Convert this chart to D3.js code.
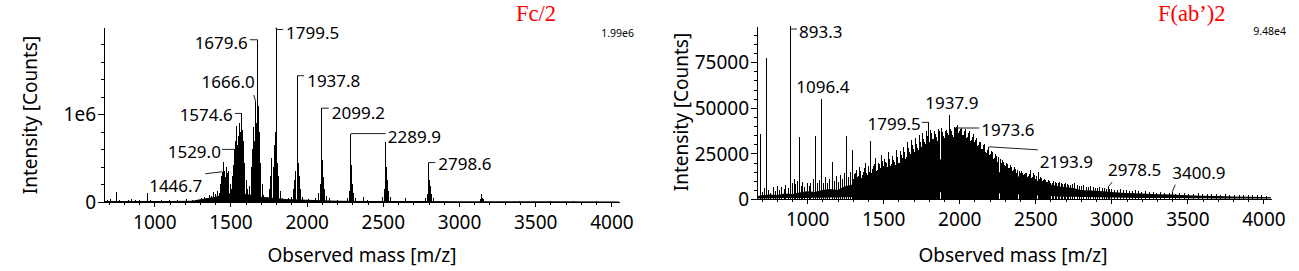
<!DOCTYPE html>
<html>
<head>
<meta charset="utf-8">
<script src="https://cdn.jsdelivr.net/npm/d3@7"></script>
<style>
  body { margin: 0; background: #fff; }
  svg { display: block; font-family: 'Noto Sans', 'Open Sans', sans-serif; }
  .axis path, .axis line { stroke: #000; shape-rendering: crispEdges; }
  .axis text { font-size: 19px; fill: #000; font-family: 'Noto Sans', sans-serif; }
  .axis-title { font-size: 19px; fill: #000; }
  .peak-label { font-size: 17px; fill: #000; }
  .leader { stroke: #222; fill: none; stroke-width: 1; }
  .stick { stroke: #000; stroke-width: 1; shape-rendering: crispEdges; }
  .bulk { fill: #000; }
  .scale-max { font-size: 10.5px; fill: #000; }
  .title { font-family: 'Liberation Serif', 'Times New Roman', serif; font-size: 22.5px; fill: #f00; }
</style>
</head>
<body>
<svg width="1299" height="271"></svg>
<script>
// ------------------------------------------------------------------ data --

const massTicks = [1000, 1500, 2000, 2500, 3000, 3500, 4000];
const massDomain = [670, 4050];

// Fc/2 panel
const fcMax = 1.99e6;
const fcYTicks = [0, 1e6];
const fcYLabels = ['0', '1e6'];
const fcPeaks = [
  [690, 20000], [712, 30000], [750, 115000], [770, 20000], [800, 15000], [830, 25000],
  [850, 30000], [880, 20000], [905, 25000], [930, 15000], [954, 100000], [975, 20000],
  [1010, 15000], [1050, 20000], [1100, 20000], [1150, 25000], [1180, 15000], [1210, 30000],
  [1250, 25000], [1280, 20000], [1310, 40000], [1330, 60000], [1345, 50000], [1360, 80000],
  [1375, 70000], [1390, 110000], [1405, 90000], [1415, 130000], [1425, 100000],
  [1432, 200000], [1440, 300000], [1446.7, 345000], [1452, 460000], [1460, 350000],
  [1468, 280000], [1475, 400000], [1483, 330000], [1490, 350000], [1498, 200000], [1505, 150000],
  [1515, 300000], [1522, 420000], [1529.0, 600000], [1535, 700000], [1540, 870000],
  [1547, 650000], [1555, 750000], [1562, 900000], [1568, 800000], [1574.6, 1010000],
  [1580, 820000], [1587, 700000], [1595, 450000], [1605, 250000], [1615, 150000],
  [1625, 180000], [1635, 400000], [1642, 600000], [1651, 850000], [1658, 700000],
  [1666.0, 1140000], [1672, 900000], [1679.6, 1850000], [1684, 1100000], [1690, 800000],
  [1698, 450000], [1708, 200000], [1720, 80000], [1740, 60000], [1755, 150000],
  [1765, 300000], [1772, 500000], [1780, 400000], [1787, 650000], [1793, 800000],
  [1799.5, 1990000], [1804, 700000], [1810, 450000], [1818, 300000], [1828, 120000],
  [1840, 50000], [1880, 40000], [1900, 60000], [1912, 150000], [1922, 250000],
  [1930, 350000], [1937.8, 1440000], [1942, 720000], [1948, 450000], [1955, 300000],
  [1962, 150000], [1975, 60000], [2010, 30000], [2060, 40000], [2080, 100000],
  [2090, 200000], [2099.2, 1070000], [2104, 480000], [2110, 280000], [2118, 150000],
  [2128, 70000], [2150, 40000], [2200, 25000], [2265, 50000], [2278, 120000],
  [2289.9, 780000], [2295, 420000], [2302, 200000], [2310, 100000], [2320, 50000],
  [2370, 60000], [2400, 20000], [2500, 60000], [2512, 150000], [2520, 680000],
  [2526, 400000], [2533, 250000], [2540, 130000], [2550, 60000], [2650, 40000],
  [2780, 40000], [2790, 90000], [2798.6, 450000], [2805, 250000], [2812, 180000],
  [2820, 90000], [2830, 40000], [3140, 30000], [3148, 90000], [3155, 50000],
  [3163, 30000], [3175, 15000], [3400, 10000], [3600, 15000], [3750, 8000], [3900, 8000]
];
const fcNoiseMass = [670, 900, 1100, 1250, 1300, 1350, 1400, 1450, 1500, 1550, 1600, 1650,
  1700, 1750, 1800, 1850, 1900, 2000, 2100, 2200, 2400, 2600, 2800, 3000, 3300, 3600, 4050];
const fcNoiseTop = [10000, 10000, 12000, 15000, 30000, 45000, 60000, 80000, 100000, 110000,
  90000, 80000, 60000, 50000, 45000, 35000, 30000, 25000, 20000, 15000, 12000, 10000,
  10000, 9000, 8000, 8000, 7000];
const fcLabels = [
  {text: '1446.7', mass: 1446.7, value: 345000},
  {text: '1529.0', mass: 1529.0, value: 600000},
  {text: '1574.6', mass: 1574.6, value: 1010000},
  {text: '1666.0', mass: 1666.0, value: 1140000},
  {text: '1679.6', mass: 1679.6, value: 1850000},
  {text: '1799.5', mass: 1799.5, value: 1990000},
  {text: '1937.8', mass: 1937.8, value: 1440000},
  {text: '2099.2', mass: 2099.2, value: 1070000},
  {text: '2289.9', mass: 2289.9, value: 780000},
  {text: '2798.6', mass: 2798.6, value: 450000}
];

// F(ab')2 panel
const fabMax = 94800;
const fabYTicks = [0, 25000, 50000, 75000];
const fabYLabels = ['0', '25000', '50000', '75000'];
const fabPeaks = [
  [693, 35600], [733, 77300], [893.3, 94800], [947, 34000], [1055, 34500],
  [1096.4, 55000], [1165, 20400], [1259, 34500], [1299, 26800], [1419, 31700],
  [1799.5, 42000], [1937.9, 46000], [1973.6, 38900], [2193.9, 28600],
  [2978.5, 6500], [3400.9, 4000]
];
const fabSpikes = [
  [705, 4000], [718, 6000], [745, 5000], [760, 3500], [778, 6500], [790, 4500], [805, 7000],
  [818, 5000], [832, 6500], [848, 5500], [860, 7500], [875, 6000], [905, 9000], [915, 11000],
  [925, 8000], [938, 10000], [960, 7000], [972, 9500], [985, 6500], [1000, 8700], [1012, 7000],
  [1025, 9000], [1040, 11000], [1068, 8500], [1080, 10500], [1110, 9000], [1122, 12000],
  [1135, 8500], [1148, 11000], [1178, 10000], [1190, 12500], [1205, 9500], [1218, 13000],
  [1232, 11000], [1245, 14000], [1272, 12000], [1285, 15000], [1312, 13500], [1325, 16000],
  [1338, 12500], [1350, 15500], [1362, 13000], [1375, 17000], [1388, 14000], [1400, 18000],
  [1408, 15000], [1430, 16500], [1442, 19000], [1455, 15500], [1468, 20000], [1480, 17000],
  [1492, 21000], [1505, 18000], [1518, 20500], [1530, 17500], [1542, 22000], [1555, 19000],
  [1567, 21500], [1580, 18500], [1592, 23000], [1605, 20000], [1618, 24000], [1630, 21000],
  [1642, 25500], [1655, 23000], [1668, 28000], [1680, 24500], [1692, 29500], [1705, 26000],
  [1717, 30000], [1730, 27000], [1742, 31500], [1755, 28500], [1768, 33000], [1780, 30000],
  [1792, 34500], [1806, 31000], [1818, 36000], [1830, 33000], [1842, 35500], [1855, 32000],
  [1867, 37000], [1880, 34000], [1892, 36500], [1905, 33500], [1918, 38000], [1928, 35000],
  [1950, 37500], [1962, 34000], [1985, 39500], [1997, 36000], [2010, 38500], [2022, 35000],
  [2035, 37500], [2047, 33500], [2060, 36000], [2072, 32000], [2085, 34000], [2097, 30500],
  [2110, 32500], [2122, 29000], [2135, 31000], [2147, 27500], [2160, 29500], [2172, 26000],
  [2185, 27000], [2205, 24500], [2218, 25500], [2230, 22500], [2243, 23500], [2255, 21000],
  [2268, 22000], [2280, 19500], [2293, 20500], [2305, 18000], [2318, 19000], [2330, 17000],
  [2343, 17500], [2355, 16000], [2368, 16500], [2380, 15000], [2393, 15500], [2405, 14000],
  [2418, 14500], [2430, 13500], [2443, 14000], [2455, 12500], [2468, 16000], [2480, 12000],
  [2493, 13000], [2505, 11500], [2518, 15000], [2530, 11000], [2543, 11500], [2555, 10500],
  [2568, 10500], [2580, 9500], [2593, 10000], [2610, 9000], [2630, 9500], [2650, 8500],
  [2670, 9000], [2690, 8000], [2710, 8000], [2730, 7500], [2760, 8500], [2790, 7000],
  [2820, 7500], [2850, 6500], [2880, 6500], [2910, 6000], [2940, 6000], [2970, 5500],
  [3000, 5500], [3040, 5000], [3080, 5000], [3120, 4500], [3160, 5000], [3200, 4000],
  [3250, 4000], [3300, 3500], [3350, 3500], [3420, 3000], [3480, 3200], [3540, 2800],
  [3600, 2800], [3660, 2500], [3720, 2400], [3780, 2200], [3840, 2300], [3900, 2000],
  [3960, 2000], [4020, 1800]
];
// interleaved charge-state ladder, read between the spikes above
const fabSpikesB = [
  [1306, 11000], [1318, 14500], [1331, 12000], [1344, 17500], [1356, 11500], [1369, 15000],
  [1381, 19500], [1394, 13000], [1414, 21000], [1424, 14000], [1436, 18000], [1449, 22500],
  [1461, 16000], [1474, 19000], [1486, 24000], [1498, 16500], [1511, 22000], [1524, 19500],
  [1536, 25500], [1548, 18000], [1561, 23500], [1573, 20500], [1586, 27000], [1598, 19500],
  [1611, 26500], [1624, 22500], [1636, 28500], [1648, 22000], [1661, 31000], [1674, 26000],
  [1686, 32500], [1698, 27500], [1711, 33500], [1723, 28000], [1736, 35000], [1748, 30000],
  [1761, 36000], [1774, 31000], [1786, 37000], [1812, 38000], [1824, 33000], [1836, 37500],
  [1849, 34000], [1861, 38500], [1873, 33500], [1886, 39000], [1898, 34500], [1911, 37500],
  [1923, 36000], [1944, 38500], [1956, 35000], [1968, 39500], [1979, 36000], [1991, 40500],
  [2004, 37000], [2016, 39000], [2028, 35000], [2041, 38500], [2053, 34000], [2066, 37000],
  [2078, 32500], [2091, 35500], [2103, 31000], [2116, 33500], [2128, 29500], [2141, 31500],
  [2153, 27500], [2166, 30000], [2178, 25000], [2191, 27000], [2199, 24000], [2211, 26500],
  [2224, 22000], [2236, 24500], [2249, 20500], [2261, 23000], [2274, 19000], [2286, 21500],
  [2299, 18500], [2311, 20000], [2324, 17000], [2336, 18500], [2349, 15500], [2361, 17500],
  [2374, 14500], [2386, 16000], [2399, 13500], [2411, 15500], [2424, 13000], [2436, 14500],
  [2449, 12000], [2461, 13500], [2474, 11500], [2486, 14000], [2499, 11000], [2511, 12500],
  [2524, 10500], [2536, 12000], [2549, 10000], [2561, 11000], [2574, 9500], [2586, 10500],
  [2600, 9000], [2620, 9800], [2640, 8800], [2660, 9200], [2680, 8200], [2700, 8500],
  [2720, 7800], [2745, 8000], [2775, 7500], [2805, 7200], [2835, 6800], [2865, 7000],
  [2895, 6200], [2925, 6500], [2955, 5800], [2985, 5600], [3020, 5200], [3060, 5400],
  [3100, 4800], [3140, 4600], [3180, 4200], [3225, 4400], [3275, 3800], [3325, 3900],
  [3385, 3300], [3450, 3400], [3510, 3000], [3570, 3100], [3630, 2700], [3690, 2600],
  [3750, 2500], [3810, 2400], [3870, 2200], [3930, 2100], [3990, 2000]
];
const fabBulkMass = [670, 700, 750, 800, 850, 900, 950, 1000, 1050, 1100, 1150, 1200, 1250,
  1300, 1350, 1400, 1450, 1500, 1550, 1600, 1650, 1700, 1750, 1800, 1850, 1900, 1950, 2000,
  2050, 2100, 2150, 2200, 2250, 2300, 2350, 2400, 2450, 2500, 2550, 2600, 2650, 2700, 2750,
  2800, 2900, 3000, 3100, 3200, 3300, 3400, 3500, 3600, 3700, 3800, 3900, 4050];
const fabBulkTop = [1500, 2000, 2500, 2200, 3000, 2800, 3500, 4200, 3800, 5000, 5500, 5000,
  7000, 8000, 7500, 10000, 9500, 12000, 11000, 14000, 13000, 17000, 16000, 21000, 19000,
  24000, 21000, 24500, 20000, 21000, 17000, 18000, 14500, 15000, 12000, 12500, 10000, 10500,
  8500, 8000, 7000, 6500, 6000, 5000, 4500, 3800, 3300, 3000, 2600, 2400, 2000, 1800, 1600,
  1400, 1200, 1000];
const fabBulkLow = [300, 300, 400, 400, 500, 500, 600, 600, 700, 700, 800, 800, 1000, 1000,
  1100, 1200, 1400, 1500, 1800, 2000, 2300, 2500, 2900, 3200, 3500, 3800, 4000, 4200, 4100,
  4000, 3700, 3500, 3200, 3000, 2700, 2500, 2200, 2000, 1800, 1600, 1400, 1300, 1200, 1100,
  900, 800, 700, 600, 500, 500, 400, 400, 300, 300, 300, 300];
const fabLabels = [
  {text: '893.3', mass: 893.3, value: 94800},
  {text: '1096.4', mass: 1096.4, value: 55000},
  {text: '1799.5', mass: 1799.5, value: 42000},
  {text: '1937.9', mass: 1937.9, value: 46000},
  {text: '1973.6', mass: 1973.6, value: 38900},
  {text: '2193.9', mass: 2193.9, value: 28600},
  {text: '2978.5', mass: 2978.5, value: 6500},
  {text: '3400.9', mass: 3400.9, value: 4000}
];

// ---------------------------------------------------------------- layout --

// label placement relative to the peak apex: leader polyline, text offset, anchor
const fcLabelLayout = {
  '1446.7': {leader: [[0, 0], [-17, 2]], dx: -20, dy: 14, anchor: 'end'},
  '1529.0': {leader: [[0, 0], [-13, 0]], dx: -14, dy: 3, anchor: 'end'},
  '1574.6': {leader: [[0, 0], [-7, 0]], dx: -9, dy: 2, anchor: 'end'},
  '1666.0': {leader: [[0, 0], [-2, -7]], dx: -1, dy: -20, anchor: 'end'},
  '1679.6': {leader: [[0, 0], [-8, 0]], dx: -10, dy: 3, anchor: 'end'},
  '1799.5': {leader: [[0, 0], [0, 2], [7, 2]], dx: 10, dy: 6, anchor: 'start'},
  '1937.8': {leader: [[0, 0], [7, 0]], dx: 10, dy: 5, anchor: 'start'},
  '2099.2': {leader: [[0, 0], [7, 0]], dx: 10, dy: 5, anchor: 'start'},
  '2289.9': {leader: [[0, 0], [35, 0]], dx: 37, dy: 3, anchor: 'start'},
  '2798.6': {leader: [[0, 0], [7, 0]], dx: 10, dy: 2, anchor: 'start'}
};
const fabLabelLayout = {
  '893.3': {leader: [[0, 3], [6, 3]], dx: 8, dy: 6, anchor: 'start'},
  '1096.4': {leader: null, dx: 1, dy: -12, anchor: 'middle'},
  '1799.5': {leader: [[0, 0], [-7, 0]], dx: -8, dy: 2, anchor: 'end'},
  '1937.9': {leader: null, dx: 2, dy: -12, anchor: 'middle'},
  '1973.6': {leader: [[0, 0], [24, 0]], dx: 26, dy: 2, anchor: 'start'},
  '2193.9': {leader: [[0, 0], [49, 3]], dx: 51, dy: 15, anchor: 'start'},
  '2978.5': {leader: [[0, 0], [4, -5]], dx: 0, dy: -17, anchor: 'start'},
  '3400.9': {leader: [[0, 0], [3, -7]], dx: 0, dy: -19, anchor: 'start'}
};

const svg = d3.select('svg');

const drawPanel = (cfg) => {
  const g = svg.append('g').classed('panel', true);

  const x = d3.scaleLinear().domain(massDomain).range(cfg.xRange);
  const y = d3.scaleLinear().domain([0, cfg.max]).range(cfg.yRange);

  // 1. axes
  // ----------------------------------
  const xAxis = g.append('g').classed('axis', true)
      .attr('transform', `translate(0,${cfg.yRange[0]})`)
      .call(d3.axisBottom(x).tickValues(massTicks).tickSize(5).tickSizeOuter(0)
          .tickFormat(d3.format('d')));
  xAxis.selectAll('text').attr('y', 20).attr('dy', '0.35em');

  g.append('g').classed('axis', true)
      .attr('transform', `translate(0,${cfg.yRange[0]})`)
      .call(d3.axisBottom(x)
          .tickValues(d3.range(700, 4001, 100).filter((d) => d % 500 !== 0))
          .tickSize(3).tickSizeOuter(0).tickFormat(''))
      .select('.domain').remove();

  const yAxis = g.append('g').classed('axis', true)
      .attr('transform', `translate(${cfg.xRange[0]},0)`)
      .call(d3.axisLeft(y).tickValues(cfg.yTicks).tickSize(6).tickPadding(2)
          .tickSizeOuter(0)
          .tickFormat((d, i) => cfg.yLabels[i]));
  yAxis.selectAll('text').attr('dy', '0.35em');

  g.append('g').classed('axis', true)
      .attr('transform', `translate(${cfg.xRange[0]},0)`)
      .call(d3.axisLeft(y).tickValues(cfg.yMinor).tickSize(3).tickFormat(''))
      .select('.domain').remove();

  // 2. spectrum
  // ----------------------------------
  if (cfg.bulk) {
    const area = d3.area()
        .x((d) => x(d[0]))
        .y0((d) => y(d[1]))
        .y1((d) => y(d[2]));
    g.append('path')
        .datum(cfg.bulk)
        .classed('bulk', true)
        .attr('d', area);
  }

  g.append('g').classed('sticks', true)
      .selectAll('line')
      .data(cfg.peaks)
      .enter()
      .append('line')
      .classed('stick', true)
      .attr('x1', (d) => x(d[0]))
      .attr('x2', (d) => x(d[0]))
      .attr('y1', y(0))
      .attr('y2', (d) => y(d[1]));

  // 3. peak labels
  // ----------------------------------
  const labels = g.append('g').classed('labels', true)
      .selectAll('g')
      .data(cfg.labels)
      .enter()
      .append('g')
      .attr('transform', (d) => `translate(${x(d.mass)},${y(d.value)})`);

  labels.filter((d) => cfg.layout[d.text].leader)
      .append('path')
      .classed('leader', true)
      .attr('d', (d) => d3.line()(cfg.layout[d.text].leader));

  labels.append('text')
      .classed('peak-label', true)
      .attr('x', (d) => cfg.layout[d.text].dx)
      .attr('y', (d) => cfg.layout[d.text].dy)
      .attr('dy', '0.35em')
      .attr('text-anchor', (d) => cfg.layout[d.text].anchor)
      .text((d) => d.text);

  // 4. titles
  // ----------------------------------
  g.append('text')
      .classed('axis-title', true)
      .attr('x', cfg.xTitle[0])
      .attr('y', cfg.xTitle[1])
      .attr('dy', '0.35em')
      .attr('text-anchor', 'middle')
      .text('Observed mass [m/z]');

  g.append('text')
      .classed('axis-title', true)
      .attr('transform', `translate(${cfg.yTitle[0]},${cfg.yTitle[1]}) rotate(-90)`)
      .attr('dy', '0.35em')
      .attr('text-anchor', 'middle')
      .text('Intensity [Counts]');

  g.append('text')
      .classed('scale-max', true)
      .attr('x', cfg.maxLabelPos[0])
      .attr('y', cfg.maxLabelPos[1])
      .attr('dy', '0.35em')
      .attr('text-anchor', 'end')
      .text(cfg.maxLabel);

  g.append('text')
      .classed('title', true)
      .attr('x', cfg.titlePos[0])
      .attr('y', cfg.titlePos[1])
      .text(cfg.title);
};

drawPanel({
  xRange: [104, 619],
  yRange: [202, 27.5],
  max: fcMax,
  yTicks: fcYTicks,
  yLabels: fcYLabels,
  yMinor: d3.range(200000, 1900000, 200000).filter((d) => d !== 1e6),
  peaks: fcPeaks,
  bulk: fcNoiseMass.map((m, i) => [m, 0, fcNoiseTop[i]]),
  labels: fcLabels,
  layout: fcLabelLayout,
  xTitle: [362, 255],
  yTitle: [30, 115],
  maxLabel: '1.99e6',
  maxLabelPos: [634, 33],
  title: 'Fc/2',
  titlePos: [516, 21]
});

drawPanel({
  xRange: [757, 1271],
  yRange: [199, 26],
  max: fabMax,
  yTicks: fabYTicks,
  yLabels: fabYLabels,
  yMinor: d3.range(5000, 95000, 5000).filter((d) => d % 25000 !== 0),
  peaks: fabSpikes.concat(fabSpikesB, fabPeaks),
  bulk: fabBulkMass.map((m, i) => [m, fabBulkLow[i], fabBulkTop[i]]),
  labels: fabLabels,
  layout: fabLabelLayout,
  xTitle: [1013, 255],
  yTitle: [681, 112],
  maxLabel: '9.48e4',
  maxLabelPos: [1286, 31],
  title: 'F(ab\u2019)2',
  titlePos: [1158, 21]
});
</script>
</body>
</html>
